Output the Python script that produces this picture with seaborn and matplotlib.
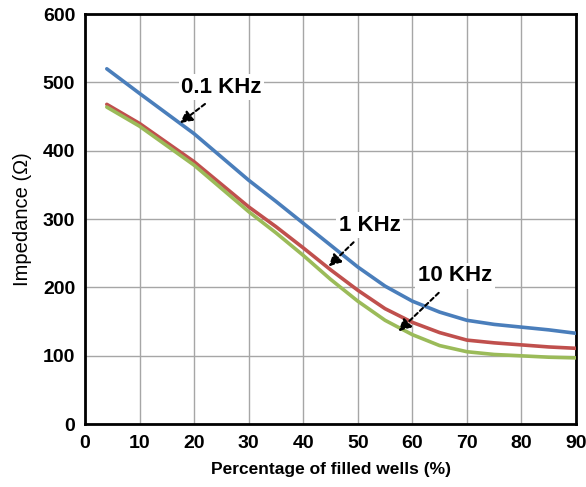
import matplotlib
matplotlib.use("Agg")
import matplotlib.pyplot as plt
from matplotlib.ticker import MultipleLocator
import seaborn as sns
import pandas as pd

# values
wells = [4, 10, 20, 30, 35, 40, 45, 50, 55, 60, 65, 70, 75, 80, 85, 90]
imp_01k = [520, 484, 425, 357, 326, 294, 262, 230, 202, 180, 164, 152, 146, 142, 138, 133]
imp_1k = [468, 440, 384, 318, 289, 258, 226, 196, 169, 149, 134, 123, 119, 116, 113, 111]
imp_10k = [464, 436, 379, 311, 280, 247, 212, 180, 152, 131, 115, 106, 102, 100, 98, 97]

labels = ["0.1 KHz", "1 KHz", "10 KHz"]
colors = ["#4A7EBB", "#C0504D", "#9BBB59"]

df = pd.DataFrame({
    "wells": wells * 3,
    "impedance": imp_01k + imp_1k + imp_10k,
    "freq": [labels[0]] * len(wells) + [labels[1]] * len(wells) + [labels[2]] * len(wells),
})

sns.set_style("white")
plt.rcParams["font.family"] = ["Liberation Sans", "DejaVu Sans"]
plt.rcParams["text.color"] = "black"
plt.rcParams["axes.labelcolor"] = "black"
plt.rcParams["xtick.color"] = "black"
plt.rcParams["ytick.color"] = "black"

fig = plt.figure(figsize=(5.86, 4.87), dpi=100)
ax = fig.add_axes([0.145, 0.129, 0.838, 0.842])

sns.lineplot(data=df, x="wells", y="impedance", hue="freq", palette=colors,
             linewidth=2.6, legend=False, ax=ax, zorder=3)

ax.set_xlim(0, 90)
ax.set_ylim(0, 600)
ax.xaxis.set_major_locator(MultipleLocator(10))
ax.xaxis.set_minor_locator(MultipleLocator(5))
ax.yaxis.set_major_locator(MultipleLocator(100))
ax.yaxis.set_minor_locator(MultipleLocator(50))
ax.grid(True, which="major", color="#A6A6A6", linewidth=1.0)

for s in ax.spines.values():
    s.set_color("black")
    s.set_linewidth(2)

ax.tick_params(which="both", direction="in", color="black", width=1.5)
ax.tick_params(which="major", length=6, labelsize=14)
ax.tick_params(axis="x", which="major", pad=8)
ax.tick_params(axis="y", which="major", pad=7)
ax.tick_params(which="minor", length=4)
for t in ax.get_xticklabels() + ax.get_yticklabels():
    t.set_fontweight("bold")

ax.set_xlabel("Percentage of filled wells (%)", fontsize=12.5, fontweight="bold", labelpad=7)
ax.set_ylabel("Impedance (Ω)", fontsize=14.5, labelpad=8)

# annotations with dashed arrows
notes = [
    ("0.1 KHz", (25.0, 493), (17.0, 438)),
    ("1 KHz", (52.2, 291), (44.3, 228)),
    ("10 KHz", (67.8, 217), (57.1, 133)),
]
for txt, (tx, ty), (px_, py_) in notes:
    ax.annotate("", xy=(px_, py_), xytext=(tx - 2.6, ty - 22),
                arrowprops=dict(arrowstyle="-|>", linestyle=(0, (2, 1.5)),
                                color="black", lw=1.5, mutation_scale=18),
                zorder=5)
    ax.text(tx, ty, txt, fontsize=16, fontweight="bold", ha="center", va="center",
            bbox=dict(facecolor="white", edgecolor="none", pad=2), zorder=4)

fig.savefig("out.png", dpi=100)
